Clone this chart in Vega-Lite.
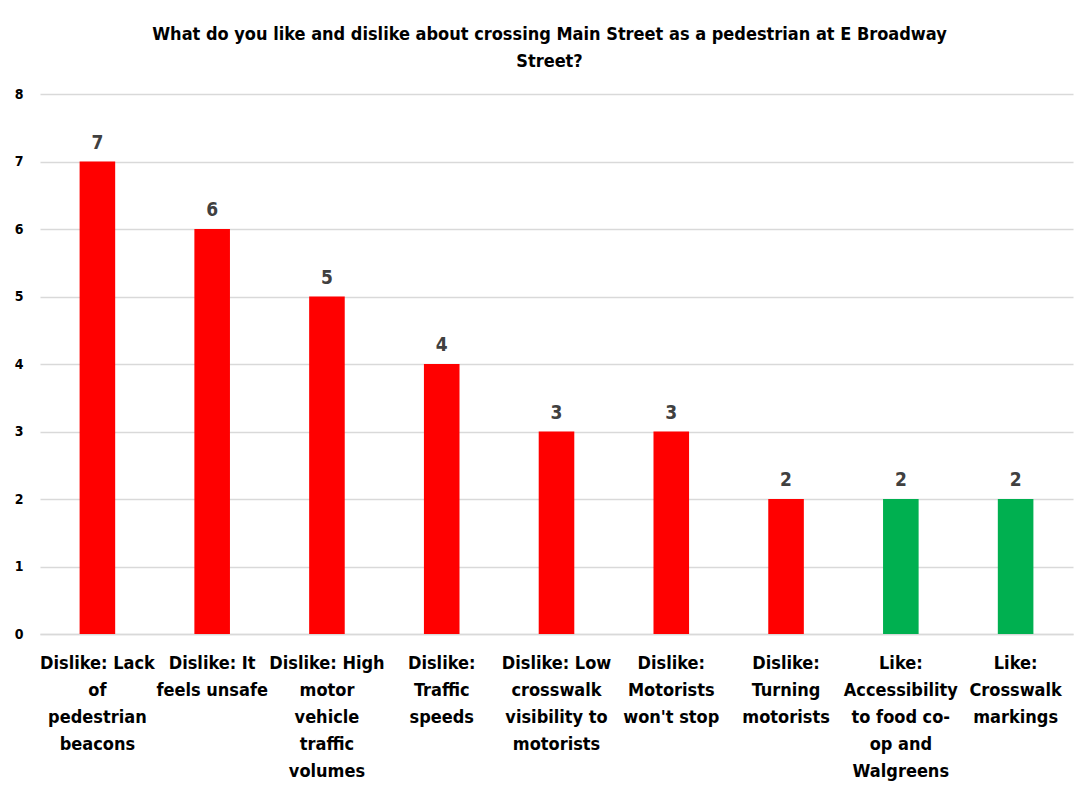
{
  "$schema": "https://vega.github.io/schema/vega-lite/v6.json",
  "autosize": "none",
  "width": 1033,
  "height": 540,
  "padding": {"left": 40, "top": 94, "right": 2, "bottom": 154},
  "background": "white",
  "title": {
    "text": ["What do you like and dislike about crossing Main Street as a pedestrian at E Broadway", "Street?"],
    "font": "Liberation Sans Narrow, DejaVu Sans Condensed, sans-serif",
    "fontSize": 18,
    "fontWeight": "bold",
    "color": "#000000",
    "lineHeight": 27,
    "offset": 16,
    "dx": -7,
    "anchor": "middle"
  },
  "data": {
    "values": [
      {"label": "Dislike: Lack|of|pedestrian|beacons", "count": 7, "type": "Dislike"},
      {"label": "Dislike: It|feels unsafe", "count": 6, "type": "Dislike"},
      {"label": "Dislike: High|motor|vehicle|traffic|volumes", "count": 5, "type": "Dislike"},
      {"label": "Dislike:|Traffic|speeds", "count": 4, "type": "Dislike"},
      {"label": "Dislike: Low|crosswalk|visibility to|motorists", "count": 3, "type": "Dislike"},
      {"label": "Dislike:|Motorists|won't stop", "count": 3, "type": "Dislike"},
      {"label": "Dislike:|Turning|motorists", "count": 2, "type": "Dislike"},
      {"label": "Like:|Accessibility|to food co-|op and|Walgreens", "count": 2, "type": "Like"},
      {"label": "Like:|Crosswalk|markings", "count": 2, "type": "Like"}
    ]
  },
  "encoding": {
    "x": {
      "field": "label",
      "type": "nominal",
      "sort": null,
      "scale": {"paddingInner": 0.69, "paddingOuter": 0.345},
      "axis": {
        "title": null,
        "labelAngle": 0,
        "labelExpr": "split(datum.value, '|')",
        "labelFont": "Liberation Sans Narrow, DejaVu Sans Condensed, sans-serif",
        "labelFontSize": 18,
        "labelFontWeight": "bold",
        "labelColor": "#000000",
        "labelLineHeight": 27,
        "labelPadding": 20,
        "labelLimit": 0,
        "labelAlign": "center",
        "labelBaseline": "top",
        "ticks": false,
        "domain": true,
        "domainColor": "#d9d9d9",
        "domainWidth": 1.5
      }
    },
    "y": {
      "field": "count",
      "type": "quantitative",
      "scale": {"domain": [0, 8]},
      "axis": {
        "title": null,
        "values": [0, 1, 2, 3, 4, 5, 6, 7, 8],
        "labelFont": "Liberation Sans Narrow, DejaVu Sans Condensed, sans-serif",
        "labelFontSize": 14,
        "labelFontWeight": "bold",
        "labelColor": "#000000",
        "labelPadding": 17,
        "ticks": false,
        "domain": false,
        "grid": true,
        "gridColor": "#d9d9d9",
        "gridWidth": 1.5
      }
    }
  },
  "layer": [
    {
      "mark": {"type": "bar"},
      "encoding": {
        "color": {
          "field": "type",
          "type": "nominal",
          "scale": {"domain": ["Dislike", "Like"], "range": ["#FF0000", "#00B050"]},
          "legend": null
        }
      }
    },
    {
      "mark": {
        "type": "text",
        "baseline": "bottom",
        "dy": -9,
        "font": "Liberation Sans Narrow, DejaVu Sans Condensed, sans-serif",
        "fontSize": 19,
        "fontWeight": "bold",
        "color": "#404040"
      },
      "encoding": {"text": {"field": "count", "type": "quantitative"}}
    }
  ],
  "config": {"view": {"stroke": null}}
}
